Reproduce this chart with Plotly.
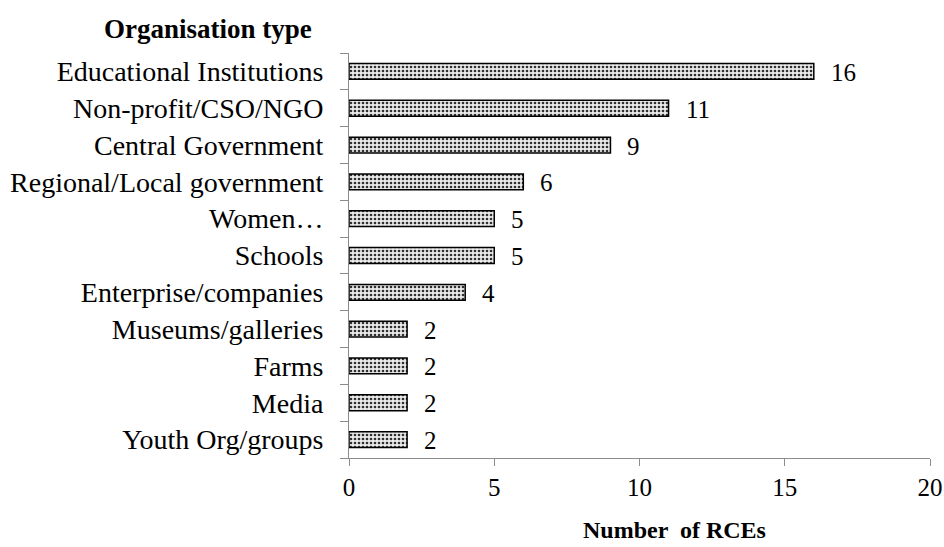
import plotly.graph_objects as go

# Organisation types (top to bottom) and the number of RCEs engaging each
categories = [
    "Educational Institutions",
    "Non-profit/CSO/NGO",
    "Central Government",
    "Regional/Local government",
    "Women…",
    "Schools",
    "Enterprise/companies",
    "Museums/galleries",
    "Farms",
    "Media",
    "Youth Org/groups",
]
counts = [16, 11, 9, 6, 5, 5, 4, 2, 2, 2, 2]
x_ticks = [0, 5, 10, 15, 20]

# Horizontal bars are drawn bottom-up, so reverse the order
cats_plot = categories[::-1]
vals_plot = counts[::-1]

font_family = "Liberation Serif, Times New Roman, serif"

fig = go.Figure(
    go.Bar(
        x=vals_plot,
        y=cats_plot,
        orientation="h",
        width=0.43,
        marker=dict(
            color="#d8d8d8",
            line=dict(color="black", width=1.5),
            pattern=dict(shape=".", fgcolor="#303030", bgcolor="#ebebeb",
                         size=4, solidity=0.35, fillmode="replace"),
        ),
        hoverinfo="x+y",
    )
)

# Value labels placed just past the end of each bar
annotations = [
    dict(x=v, y=c, xref="x", yref="y", text=str(v), showarrow=False,
         xanchor="left", yanchor="middle", xshift=15, yshift=-1,
         font=dict(family=font_family, size=25, color="black"))
    for c, v in zip(cats_plot, vals_plot)
]

annotations += [
    dict(text="<b>Organisation type</b>", xref="paper", yref="paper",
         x=-0.243, y=1.0, yshift=24, xanchor="center", yanchor="middle",
         showarrow=False, font=dict(family=font_family, size=27, color="black")),
    dict(text="<b>Number  of RCEs</b>", xref="paper", yref="paper",
         x=0.56, y=0, yshift=-87, xanchor="center", yanchor="bottom",
         showarrow=False, font=dict(family=font_family, size=24, color="black")),
]

fig.update_layout(
    width=944,
    height=547,
    margin=dict(l=349, r=14, t=53, b=89, autoexpand=False),
    plot_bgcolor="white",
    paper_bgcolor="white",
    showlegend=False,
    font=dict(family=font_family, size=25, color="black"),
    xaxis=dict(
        range=[0, 20],
        tickvals=x_ticks,
        ticktext=[str(t) for t in x_ticks],
        showgrid=False,
        zeroline=False,
        showline=True,
        linecolor="#8c8c8c",
        linewidth=1,
        ticks="outside",
        ticklen=7,
        tickcolor="#8c8c8c",
        tickfont=dict(family=font_family, size=25),
        ticklabelstandoff=0,
        automargin=False,
        fixedrange=True,
    ),
    yaxis=dict(
        showgrid=False,
        zeroline=False,
        showline=True,
        linecolor="#8c8c8c",
        linewidth=1,
        ticks="outside",
        tickson="boundaries",
        ticklen=8,
        tickcolor="#8c8c8c",
        tickfont=dict(family=font_family, size=28),
        ticklabelstandoff=19,
        automargin=False,
        fixedrange=True,
    ),
    annotations=annotations,
)

fig.write_html("out.html")
